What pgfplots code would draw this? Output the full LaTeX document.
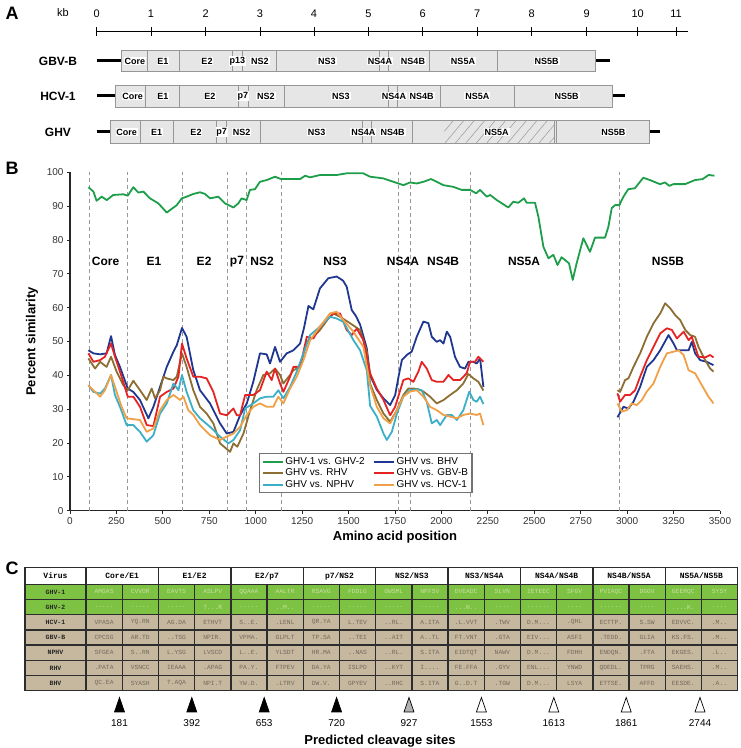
\documentclass[border=0pt]{standalone}
\usepackage{fontspec}
\setmainfont{Liberation Sans}
\newfontfamily\monofont{Liberation Mono}
\usepackage{pgfplots}
\pgfplotsset{compat=1.18}
\usetikzlibrary{patterns.meta}
\definecolor{cgreen}{RGB}{30,158,75}
\definecolor{cblue}{RGB}{32,55,145}
\definecolor{cbrown}{RGB}{140,110,50}
\definecolor{cred}{RGB}{230,35,35}
\definecolor{ccyan}{RGB}{60,175,200}
\definecolor{corange}{RGB}{240,160,70}
\definecolor{boxfill}{RGB}{230,230,230}
\definecolor{boxline}{RGB}{150,150,150}
\definecolor{tgreen}{RGB}{125,194,66}
\definecolor{ttan}{RGB}{198,184,158}
\definecolor{tgtxt}{RGB}{200,224,165}
\definecolor{tttxt}{RGB}{115,106,94}
\definecolor{tline}{RGB}{45,45,45}
\makeatletter
\newcount\cellidx
\newcommand\tablerow[5]{%
  \pgfmathsetmacro\yt{584.3+15.2*#1}%
  \pgfmathsetmacro\yb{\yt+15.2}%
  \pgfmathsetmacro\ym{\yt+7.6}%
  \fill[#3] (25,\yt) rectangle (737.6,\yb);
  \node[font=\monofont\bfseries\fontsize{6.5}{6.5}\selectfont, text=black!85] at (55.5,\ym) {#2};
  \global\cellidx=0
  \@for\c:=#5\do{%
    \pgfmathsetmacro\xc{86+36.2*\the\cellidx+18.1}%
    \node[font=\monofont\fontsize{6.3}{6.3}\selectfont, text=#4] at (\xc,\ym) {\c};
    \global\advance\cellidx by 1\relax}%
}
\makeatother
\begin{document}
\begin{tikzpicture}[x=1pt,y=1pt]
\useasboundingbox (0,0) rectangle (740,748);
\begin{scope}[shift={(0,748)},y=-1pt]
% ---------------- Panel A ----------------
\node[font=\fontsize{18}{18}\selectfont\bfseries] at (12,13) {A};
\node[font=\fontsize{11}{11}\selectfont] at (63,13) {kb};
\draw[line width=1.2pt] (96.7,31.7) -- (688,31.7);
\foreach \p/\l in {96.7/0,151/1,205.7/2,260/3,314/4,368.5/5,422.7/6,477.3/7,531.7/8,586.7/9,637.7/10,676/11}{
  \draw[line width=1pt] (\p,27.5) -- (\p,36);
  \node[font=\fontsize{11}{11}\selectfont] at (\p,13.5) {\l};
}
\tikzset{seg/.style={font=\fontsize{9}{9}\selectfont\bfseries, fill=white, inner sep=0.8pt},
         rowname/.style={font=\fontsize{12}{12}\selectfont\bfseries}}
% GBV-B
\node[rowname] at (58,61) {GBV-B};
\draw[line width=3pt] (96.7,61) -- (121.7,61);
\draw[line width=3pt] (595,61) -- (610,61);
\draw[fill=boxfill, draw=boxline, line width=0.8pt] (121.7,50.5) rectangle (595,71.5);
\foreach \b in {147.7,179.3,232.3,242.7,276.7,379.3,388.3,429,497.3}{\draw[boxline, line width=0.8pt] (\b,50.5) -- (\b,71.5);}
\foreach \p/\l in {135/Core,163/E1,207/E2,237.5/p13,260/NS2,327/NS3,380/NS4A,413/NS4B,463/NS5A,546.7/NS5B}{\node[seg] at (\p,61) {\l};}
% HCV-1
\node[rowname] at (58,96) {HCV-1};
\draw[line width=3pt] (96.7,96) -- (115,96);
\draw[line width=3pt] (612.7,96) -- (625,96);
\draw[fill=boxfill, draw=boxline, line width=0.8pt] (115,85) rectangle (612.7,107.3);
\foreach \b in {145.7,179,238.3,248.3,284.3,388.3,397.3,440.7,514.3}{\draw[boxline, line width=0.8pt] (\b,85) -- (\b,107.3);}
\foreach \p/\l in {132.7/Core,163/E1,210/E2,243/p7,266/NS2,341/NS3,394/NS4A,421.7/NS4B,477.3/NS5A,566.7/NS5B}{\node[seg] at (\p,96) {\l};}
% GHV
\node[rowname] at (58,132) {GHV};
\draw[line width=3pt] (96.7,132) -- (110,132);
\draw[line width=3pt] (649,132) -- (660,132);
\draw[fill=boxfill, draw=boxline, line width=0.8pt] (110,120.7) rectangle (649,143.3);
\fill[pattern={Lines[angle=50,distance=8pt,line width=0.5pt]}, pattern color=black!40] (444.3,120.7) rectangle (554,143.3);
\draw[draw=boxline, line width=0.8pt] (110,120.7) rectangle (649,143.3);
\foreach \b in {140.7,173.3,216.7,226.7,260.7,362.7,371.7,412.7,554,556.7}{\draw[boxline, line width=0.8pt] (\b,120.7) -- (\b,143.3);}
\foreach \p/\l in {126.7/Core,156.7/E1,196/E2,221.7/p7,241.7/NS2,316.7/NS3,363.3/NS4A,392.7/NS4B,496.7/NS5A,613.3/NS5B}{\node[seg] at (\p,132) {\l};}
% ---------------- Panel labels B, C ----------------
\node[font=\fontsize{18}{18}\selectfont\bfseries] at (12,168) {B};
\node[font=\fontsize{18}{18}\selectfont\bfseries] at (12,568) {C};
% ---------------- Panel C table ----------------
\fill[white] (25,567.7) rectangle (737.6,584.3);
\tablerow{0}{GHV-1}{tgreen}{tgtxt}{AMGAS,CVVDR,EAVTS,ASLPV,QQAAA,AALTR,RSAVG,FDDLG,GWSML,NPFSV,DVEADC,SLVN,IETEEC,SFGV,PVIAQC,DGGV,GEERQC,SYSY}
\tablerow{1}{GHV-2}{tgreen}{tgtxt}{.....,.....,.....,T...R,.....,..M..,.....,.....,.....,.....,...N..,....,......,....,......,....,....K.,....}
\tablerow{2}{HCV-1}{ttan}{tttxt}{VPASA,YQ.RN,AG.DA,ETHVT,S..E.,.LENL,QR.YA,L.TEV,..RL.,A.ITA,.L.VVT,.TWV,D.M...,.QHL,ECTTP.,S.SW,EDVVC.,.M..}
\tablerow{3}{GBV-B}{ttan}{tttxt}{CPCSG,AR.TD,..TSG,NPIR.,VPMA.,GLPLT,TP.SA,..TEI,..AIT,A..TL,FT.VNT,.GTA,EIV...,ASFI,.TEDD.,GLIA,KS.FS.,.M..}
\tablerow{4}{NPHV}{ttan}{tttxt}{SFGEA,S..RN,L.YSG,LVSCD,L..E.,YLSDT,HR.MA,..NAS,..RL.,S.ITA,EIDTQT,NAWV,D.M...,FDHH,ENDQN.,.FTA,EKGES.,.L..}
\tablerow{5}{RHV}{ttan}{tttxt}{.PATA,VSNCC,IEAAA,.APAG,PA.Y.,FTPEV,DA.YA,ISLPD,..KYT,I....,FE.FFA,.GYV,ENL...,YNWD,QDEDL.,TPRG,SAEHS.,.M..}
\tablerow{6}{BHV}{ttan}{tttxt}{QC.EA,SYASH,T.AQA,NPI.T,YW.D.,.LTRV,DW.V.,GPYEV,..RHC,S.ITA,G..D.T,.TGW,D.M...,LSYA,ETTSE.,AFFD,EESDE.,.A..}
\node[font=\monofont\bfseries\fontsize{8}{8}\selectfont] at (55.5,576) {Virus};
\foreach \a/\b [count=\hi from 0] in {Core/E1,E1/E2,E2/p7,p7/NS2,NS2/NS3,NS3/NS4A,NS4A/NS4B,NS4B/NS5A,NS5A/NS5B}{
  \pgfmathsetmacro\xc{86+72.4*\hi+36.2}
  \node[font=\monofont\bfseries\fontsize{8}{8}\selectfont] at (\xc,576) {\a/\b};
}
% grid
\foreach \yy in {584.3,599.5,614.7,629.9,645.1,660.3,675.5}{\draw[tline, line width=1.4pt] (25,\yy) -- (737.6,\yy);}
\foreach \k in {1,2,3,4,5,6,7,8,9,10,11,12,13,14,15,16,17}{\pgfmathsetmacro\xx{86+36.2*\k}\draw[tline, line width=1.4pt] (\xx,584.3) -- (\xx,690.7);}
\foreach \k in {1,2,3,4,5,6,7,8}{\pgfmathsetmacro\xx{86+72.4*\k}\draw[tline, line width=1.4pt] (\xx,567.7) -- (\xx,584.3);}
\draw[tline, line width=1.4pt] (86,567.7) -- (86,690.7);
\draw[tline, line width=1.6pt] (25,567.7) rectangle (737.6,690.7);
% triangles
\foreach \xx/\lab/\fcc in {119.5/181/black,191.8/392/black,264.2/653/black,336.6/720/black,409/927/black!30,481.4/1553/white,553.8/1613/white,626.2/1861/white,700/2744/white}{
  \draw[fill=\fcc, line width=0.7pt] (\xx-5,712) -- (\xx+5,712) -- (\xx,697.5) -- cycle;
  \node[font=\fontsize{10}{10}\selectfont] at (\xx,723) {\lab};
}
\node[font=\fontsize{13}{13}\selectfont\bfseries] at (380,741) {Predicted cleavage sites};
\end{scope}
% ---------------- Panel B ----------------
\begin{axis}[
  at={(70pt,237.3pt)}, anchor=south west, scale only axis,
  width=650pt, height=338.4pt,
  xmin=0, xmax=3500, ymin=0, ymax=100,
  axis x line=bottom, axis y line=left,
  axis line style={-, line width=1.6pt, black!85},
  xtick={0,250,...,3500}, ytick={0,10,...,100},
  tick style={black!85, line width=0.8pt}, tick align=outside, major tick length=3pt,
  ticklabel style={font=\fontsize{10}{10}\selectfont, text=black!80},
  /pgf/number format/assume math mode=true,
  /pgf/number format/set thousands separator={},
  xlabel={Amino acid position}, ylabel={Percent similarity},
  label style={font=\fontsize{13}{13}\selectfont\bfseries},
  xlabel style={at={(axis description cs:0.5,-0.077)}, anchor=center},
  ylabel style={at={(axis description cs:-0.0585,0.5)}, anchor=center},
  unbounded coords=jump,
  legend columns=2,
  legend cell align=left,
  legend image code/.code={\draw[#1, line width=1.8pt] (0pt,0pt) -- (20pt,0pt);},
  legend style={at={(axis cs:1018,17.1)}, anchor=north west, draw=black!55, line width=1.2pt,
    font=\fontsize{10}{10}\selectfont, inner sep=2pt, row sep=-1pt,
    /tikz/every even column/.append style={column sep=6pt}},
  clip=false,
  curve/.style={line width=1.8pt, line join=round},
]
\pgfplotsinvokeforeach{102,311,603,847,951,1136,1768,1835,2154,2958}{
  \addplot[forget plot, black!40, line width=0.7pt, dash pattern=on 4pt off 3pt] coordinates {(#1,0) (#1,100)};
}
\addplot[curve, cgreen] coordinates {(99,95.6)(126,94.3)(143,91.6)(171,92.8)(198,91.8)(233,93.3)(287,93.5)(311,93.1)(341,95.6)(368,94.0)(395,94.3)(431,92.3)(476,90.8)(521,88.1)(548,89.2)(575,90.3)(602,92.3)(628,92.8)(664,93.6)(700,94.1)(727,93.6)(754,92.3)(799,92.8)(835,90.8)(880,89.6)(906,90.8)(924,92.3)(951,91.8)(969,94.8)(996,95.0)(1023,97.2)(1059,97.7)(1104,98.7)(1136,98.0)(1239,98.0)(1266,99.0)(1292,98.5)(1346,99.2)(1436,99.2)(1490,99.7)(1579,99.7)(1616,98.7)(1687,98.2)(1768,96.7)(1795,96.2)(1831,97.0)(1867,96.7)(1903,97.2)(1944,98.0)(1975,97.2)(2010,96.2)(2064,95.7)(2109,94.8)(2154,94.8)(2187,93.8)(2208,94.8)(2244,92.8)(2262,93.3)(2298,91.8)(2360,89.6)(2387,91.3)(2414,91.0)(2445,92.3)(2459,91.0)(2504,91.0)(2522,86.9)(2549,78.0)(2576,74.6)(2603,75.6)(2625,72.6)(2647,74.9)(2665,74.1)(2687,73.1)(2707,68.2)(2728,73.1)(2764,80.5)(2800,76.5)(2827,80.7)(2881,80.7)(2899,83.9)(2917,89.4)(2935,90.3)(2958,90.3)(2980,92.8)(3006,95.0)(3042,95.3)(3087,98.4)(3123,97.7)(3177,96.5)(3204,97.0)(3227,96.0)(3249,96.5)(3312,96.5)(3365,97.7)(3407,98.0)(3438,99.2)(3470,99.0)};
\addlegendentry{GHV-1 vs. GHV-2}
\addplot[curve, cblue] coordinates {(99,47.4)(126,46.5)(162,46.2)(197,46.5)(221,51.6)(242,46.0)(269,42.5)(311,36.1)(341,35.1)(377,32.7)(422,27.3)(449,30.7)(485,36.6)(521,42.5)(557,47.0)(575,48.9)(603,54.0)(628,51.4)(664,41.5)(700,35.6)(754,31.7)(808,25.8)(844,22.8)(880,23.3)(916,28.2)(952,31.7)(987,38.1)(1023,46.5)(1059,46.2)(1077,43.5)(1104,48.4)(1131,44.0)(1167,46.5)(1203,47.4)(1239,49.4)(1260,54.0)(1284,60.5)(1310,59.5)(1346,65.7)(1391,68.7)(1436,69.2)(1470,68.0)(1490,66.2)(1517,59.3)(1540,57.5)(1562,55.0)(1598,48.0)(1616,40.0)(1652,35.7)(1688,33.2)(1724,31.2)(1751,34.2)(1769,39.6)(1787,44.5)(1813,46.0)(1840,47.0)(1867,51.4)(1903,55.9)(1930,55.4)(1948,51.4)(1975,49.9)(1993,50.4)(2011,49.4)(2029,52.9)(2047,51.4)(2073,45.5)(2100,42.5)(2127,42.0)(2145,44.0)(2172,44.0)(2190,43.5)(2208,45.0)(2226,36.6)(2500,nan)(2948,27.6)(2980,30.7)(3007,30.2)(3034,32.2)(3070,36.6)(3106,42.5)(3142,44.5)(3178,47.4)(3223,51.9)(3250,49.4)(3268,47.4)(3304,47.4)(3331,47.4)(3348,49.9)(3366,46.5)(3393,44.5)(3429,44.0)(3465,43.0)};
\addlegendentry{GHV vs. BHV}
\addplot[curve, cbrown] coordinates {(99,45.0)(135,42.0)(162,44.0)(197,42.5)(221,45.5)(251,41.1)(287,37.1)(311,35.6)(341,38.4)(377,35.6)(413,32.7)(440,36.1)(458,33.2)(485,35.6)(503,39.6)(521,39.1)(557,38.6)(575,39.6)(603,46.5)(628,42.5)(664,35.6)(700,30.7)(736,28.7)(772,25.8)(808,19.9)(862,17.4)(880,19.9)(901,18.9)(934,22.8)(970,29.7)(1005,35.6)(1041,40.1)(1077,40.6)(1104,42.0)(1131,40.1)(1149,37.6)(1185,40.1)(1203,41.5)(1239,42.5)(1275,49.9)(1311,51.4)(1346,53.4)(1391,56.8)(1418,58.3)(1454,57.3)(1508,55.4)(1562,53.4)(1598,47.0)(1616,37.5)(1652,32.7)(1688,28.7)(1724,26.3)(1760,29.7)(1795,34.2)(1822,36.1)(1849,36.1)(1876,35.9)(1903,35.2)(1939,33.7)(1975,31.7)(2011,32.7)(2047,34.2)(2083,35.6)(2118,37.6)(2145,40.4)(2172,39.1)(2199,38.1)(2226,35.5)(2500,nan)(2948,35.6)(2962,35.1)(2989,38.6)(3007,39.1)(3034,42.5)(3070,46.5)(3106,51.4)(3142,55.4)(3178,58.3)(3205,61.3)(3232,59.8)(3259,57.8)(3286,56.3)(3313,53.4)(3340,51.9)(3366,51.4)(3384,48.4)(3420,44.5)(3447,42.0)(3465,41.1)};
\addlegendentry{GHV vs. RHV}
\addplot[curve, cred] coordinates {(99,46.5)(126,44.0)(162,44.5)(188,45.5)(221,49.4)(242,45.5)(278,39.6)(311,33.7)(341,33.7)(377,30.7)(413,25.3)(449,25.0)(485,33.7)(521,35.1)(557,36.1)(584,39.6)(603,49.4)(628,45.0)(664,39.6)(700,39.6)(736,39.1)(772,35.1)(808,28.7)(844,28.2)(880,30.2)(898,28.2)(916,28.2)(943,34.2)(987,34.2)(1023,35.6)(1059,41.1)(1086,38.6)(1104,42.0)(1131,37.6)(1149,35.1)(1185,39.6)(1203,42.5)(1239,42.5)(1275,51.4)(1311,50.9)(1346,54.4)(1382,56.3)(1418,58.3)(1454,58.3)(1490,53.4)(1517,51.9)(1544,53.8)(1580,50.4)(1616,40.6)(1652,36.1)(1688,32.7)(1724,28.2)(1751,30.7)(1778,35.6)(1795,38.6)(1822,39.1)(1849,38.1)(1876,41.1)(1894,44.0)(1921,42.0)(1948,38.6)(1975,38.1)(2011,38.1)(2038,40.1)(2065,38.6)(2100,38.6)(2136,40.6)(2154,44.0)(2181,44.0)(2199,45.5)(2217,44.5)(2226,44.0)(2500,nan)(2948,34.7)(2962,32.2)(2989,34.2)(3016,34.2)(3043,35.6)(3070,39.6)(3106,44.5)(3142,48.4)(3178,52.4)(3214,53.9)(3241,53.4)(3268,50.9)(3304,52.9)(3331,50.4)(3348,51.4)(3384,45.5)(3420,45.3)(3447,46.0)(3465,45.3)};
\addlegendentry{GHV vs. GBV-B}
\addplot[curve, ccyan] coordinates {(99,37.1)(126,35.1)(162,34.6)(188,36.1)(221,40.1)(242,34.2)(269,30.7)(305,25.3)(341,25.3)(377,23.3)(413,20.4)(449,22.3)(485,28.7)(521,31.7)(557,37.6)(584,35.6)(603,40.1)(628,35.1)(664,29.7)(700,27.3)(754,24.8)(808,21.9)(853,19.9)(880,20.9)(916,23.8)(943,30.2)(987,31.7)(1023,33.2)(1059,33.7)(1095,33.7)(1122,35.6)(1149,33.2)(1185,36.6)(1221,41.1)(1257,46.5)(1293,51.9)(1346,54.4)(1400,57.3)(1436,56.8)(1472,55.8)(1526,50.4)(1562,47.4)(1598,41.5)(1616,31.0)(1652,27.8)(1688,22.8)(1706,20.9)(1733,23.3)(1760,28.7)(1795,33.7)(1831,35.6)(1867,35.9)(1894,35.6)(1921,32.2)(1948,25.8)(1975,26.8)(1993,25.3)(2029,28.3)(2056,28.3)(2083,26.8)(2118,29.7)(2150,35.2)(2172,32.7)(2190,32.2)(2208,33.7)(2226,31.5)};
\addlegendentry{GHV vs. NPHV}
\addplot[curve, corange] coordinates {(99,37.1)(126,35.6)(162,33.7)(188,35.6)(221,40.1)(242,36.6)(278,30.7)(305,27.3)(377,26.8)(413,23.3)(449,24.3)(485,29.7)(521,32.7)(557,34.2)(593,32.7)(611,33.7)(637,29.7)(664,28.3)(700,25.3)(754,22.3)(808,20.9)(844,21.9)(880,22.8)(916,24.8)(952,28.3)(987,30.7)(1023,31.7)(1059,30.7)(1095,30.7)(1122,33.7)(1149,31.7)(1185,36.1)(1221,39.6)(1257,44.5)(1293,50.4)(1346,54.4)(1400,58.3)(1436,58.8)(1472,56.3)(1526,52.9)(1580,48.4)(1616,37.0)(1652,30.7)(1688,27.3)(1724,25.8)(1760,29.7)(1795,33.7)(1831,35.2)(1867,35.6)(1903,33.7)(1939,30.7)(1975,29.7)(2011,28.3)(2047,27.8)(2083,27.3)(2118,28.3)(2154,28.7)(2190,28.3)(2208,28.7)(2226,25.3)(2500,nan)(2948,31.7)(2971,29.3)(2998,29.7)(3025,31.7)(3052,31.2)(3079,32.7)(3106,35.2)(3142,37.6)(3178,42.5)(3214,46.5)(3250,47.0)(3277,47.4)(3304,46.0)(3331,41.5)(3366,40.6)(3402,37.1)(3438,33.7)(3465,31.7)};
\addlegendentry{GHV vs. HCV-1}
\foreach \p/\l in {192/Core,452/E1,722/E2,899/p7,1034/NS2,1427/NS3,1793/NS4A,2009/NS4B,2445/NS5A,3220/NS5B}{
  \edef\tmp{\noexpand\node[font=\noexpand\fontsize{12}{12}\noexpand\selectfont\noexpand\bfseries] at (axis cs:\p,73.6) {\l};}
  \tmp
}
\end{axis}
\end{tikzpicture}
\end{document}
